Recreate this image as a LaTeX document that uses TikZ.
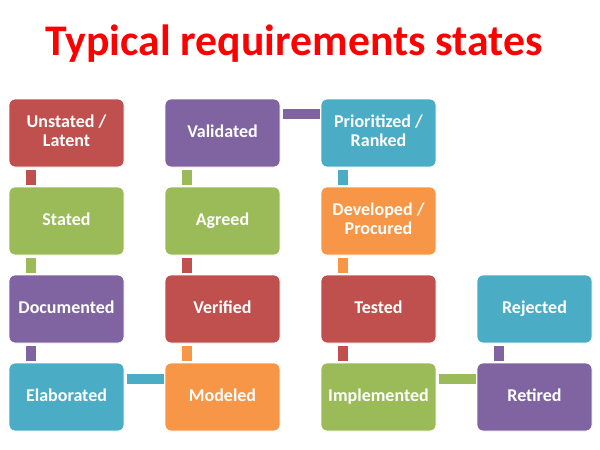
\documentclass[tikz,border=0pt]{standalone}
\usepackage{fontspec}
\setmainfont{Carlito}
\definecolor{cred}{HTML}{C0504D}
\definecolor{cgreen}{HTML}{9BBB59}
\definecolor{cpurple}{HTML}{8064A2}
\definecolor{cblue}{HTML}{4BACC6}
\definecolor{corange}{HTML}{F79646}
\newcommand{\boxstrut}{\rule[-5pt]{0pt}{19pt}}
\begin{document}
\begin{tikzpicture}[x=1pt,y=-1pt,
  box/.style={rectangle, rounded corners=6pt, draw=white, line width=0.8pt, fill=#1,
    minimum width=115pt, minimum height=68pt, inner sep=0pt, text=white,
    font=\fontsize{18}{19}\selectfont\bfseries, align=center,
    execute at begin node=\boxstrut, execute at end node=\boxstrut},
  conn/.style={draw=#1, line width=10pt, line cap=butt}]
\useasboundingbox[fill=white] (0,0) rectangle (600,450);
\node[anchor=base, text=red, font=\fontsize{43.7}{50}\selectfont\bfseries] (title) at (294,55) {Typical requirements states};
% column 1
\node[box=cred]    (unstated) at (66.5,133) {Unstated /\\Latent};
\node[box=cgreen]  (stated)   at (66.5,221) {Stated};
\node[box=cpurple] (documented) at (66.5,309) {Documented};
\node[box=cblue]   (elaborated) at (66.5,397) {Elaborated};
% column 2
\node[box=cpurple] (validated) at (222.5,133) {Validated};
\node[box=cgreen]  (agreed)    at (222.5,221) {Agreed};
\node[box=cred]    (verified)  at (222.5,309) {Verified};
\node[box=corange] (modeled)   at (222.5,397) {Modeled};
% column 3
\node[box=cblue]   (prioritized) at (378.5,133) {Prioritized /\\Ranked};
\node[box=corange] (developed)   at (378.5,221) {Developed /\\Procured};
\node[box=cred]    (tested)      at (378.5,309) {Tested};
\node[box=cgreen]  (implemented) at (378.5,397) {Implemented};
% column 4
\node[box=cblue]   (rejected) at (534.5,309) {Rejected};
\node[box=cpurple] (retired)  at (534.5,397) {Retired};
% vertical connectors (upper box to lower box)
\draw[conn=cred]    ([xshift=22pt,yshift=-3pt]unstated.south west) -- ([xshift=22pt,yshift=2pt]stated.north west);
\draw[conn=cgreen]  ([xshift=22pt,yshift=-3pt]stated.south west) -- ([xshift=22pt,yshift=2pt]documented.north west);
\draw[conn=cpurple] ([xshift=22pt,yshift=-3pt]documented.south west) -- ([xshift=22pt,yshift=2pt]elaborated.north west);
\draw[conn=corange] ([xshift=22pt,yshift=2pt]modeled.north west) -- ([xshift=22pt,yshift=-3pt]verified.south west);
\draw[conn=cred]    ([xshift=22pt,yshift=2pt]verified.north west) -- ([xshift=22pt,yshift=-3pt]agreed.south west);
\draw[conn=cgreen]  ([xshift=22pt,yshift=2pt]agreed.north west) -- ([xshift=22pt,yshift=-3pt]validated.south west);
\draw[conn=cblue]   ([xshift=22pt,yshift=-3pt]prioritized.south west) -- ([xshift=22pt,yshift=2pt]developed.north west);
\draw[conn=corange] ([xshift=22pt,yshift=-3pt]developed.south west) -- ([xshift=22pt,yshift=2pt]tested.north west);
\draw[conn=cred]    ([xshift=22pt,yshift=-3pt]tested.south west) -- ([xshift=22pt,yshift=2pt]implemented.north west);
\draw[conn=cpurple] ([xshift=22pt,yshift=2pt]retired.north west) -- ([xshift=22pt,yshift=-3pt]rejected.south west);
% horizontal connectors
\draw[conn=cblue]   ([xshift=3pt,yshift=-16pt]elaborated.north east) -- ([xshift=-1pt,yshift=-16pt]modeled.north west);
\draw[conn=cpurple] ([xshift=3pt,yshift=-15pt]validated.north east) -- ([xshift=-1pt,yshift=-15pt]prioritized.north west);
\draw[conn=cgreen]  ([xshift=3pt,yshift=-16pt]implemented.north east) -- ([xshift=-1pt,yshift=-16pt]retired.north west);
\end{tikzpicture}
\end{document}
